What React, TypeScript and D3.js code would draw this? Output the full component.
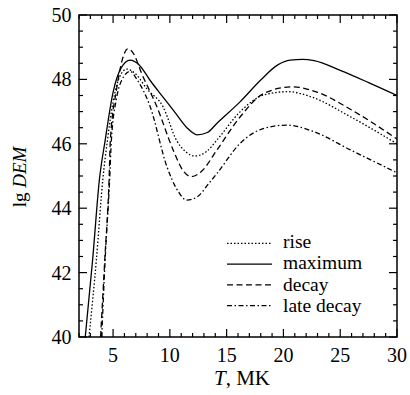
import React from "react";
import * as d3 from "d3";

const xTicks = [5, 10, 15, 20, 25, 30];
const yTicks = [40, 42, 44, 46, 48, 50];

const riseT = [2.88, 3.53, 4.1, 4.5, 5.0, 5.6, 6.2, 6.9, 8.0, 9.4, 10.6, 11.4, 12.2, 13.2, 14.15, 16.2, 18.3, 20.4, 22.5, 25.9, 30];
const riseV = [40, 42.4, 44.9, 46.1, 47.3, 48.1, 48.32, 48.2, 47.7, 47.15, 46.1, 45.75, 45.62, 45.75, 46.12, 47.0, 47.52, 47.62, 47.45, 46.84, 46.0];

const maxT = [2.55, 3.2, 3.8, 4.3, 5.0, 5.7, 6.5, 7.3, 8.3, 9.4, 10.5, 11.5, 12.4, 13.3, 14.15, 16.2, 18.0, 19.5, 20.6, 21.7, 22.7, 25.0, 27.5, 30];
const maxV = [40, 42.4, 44.9, 46.1, 47.6, 48.35, 48.6, 48.45, 47.95, 47.45, 46.95, 46.5, 46.28, 46.35, 46.64, 47.31, 47.98, 48.45, 48.6, 48.62, 48.58, 48.28, 47.9, 47.5];

const decayT = [3.9, 4.27, 4.65, 4.76, 5.3, 5.8, 6.3, 6.8, 7.5, 8.86, 10.3, 11.1, 11.9, 12.8, 14.15, 16.2, 18.3, 20.8, 23.0, 26.0, 30];
const decayV = [40, 42.4, 44.9, 46.1, 47.67, 48.6, 48.95, 48.8, 48.2, 47.15, 45.8, 45.2, 44.98, 45.15, 45.81, 46.84, 47.57, 47.77, 47.6, 47.05, 46.15];

const lateT = [4.0, 4.3, 4.7, 4.85, 5.3, 5.8, 6.5, 7.1, 8.27, 9.74, 10.6, 11.5, 12.4, 13.5, 14.15, 16.2, 18.3, 20.3, 22.5, 25.9, 30];
const lateV = [40, 42.4, 44.9, 46.1, 47.4, 48.0, 48.25, 48.0, 47.15, 45.29, 44.6, 44.25, 44.35, 44.8, 45.08, 46.02, 46.48, 46.58, 46.4, 45.81, 45.1];

const seriesNames = ["rise", "maximum", "decay", "late decay"];

export default function App() {
  const W = 410, H = 395;
  const L = 79, R = 397, T = 15, B = 337;
  const x = d3.scaleLinear().domain([2, 30]).range([L, R]);
  const y = d3.scaleLinear().domain([40, 50]).range([B, T]);
  const line = d3.line<[number, number]>().x(d => x(d[0])).y(d => y(d[1])).curve(d3.curveMonotoneX);

  const series = [
    { name: seriesNames[0], t: riseT, v: riseV, dash: "1.5 2" },
    { name: seriesNames[1], t: maxT, v: maxV, dash: "" },
    { name: seriesNames[2], t: decayT, v: decayV, dash: "6 3.5" },
    { name: seriesNames[3], t: lateT, v: lateV, dash: "5 2.5 1.5 2.5" },
  ];

  const xMinor = d3.range(2, 30.01, 1);
  const yMinor = d3.range(40, 50.01, 0.5);

  return (
    <svg width={W} height={H} style={{ position: "absolute", left: 0, top: 0 }}>
      <defs>
        <clipPath id="pc"><rect x={L} y={T} width={R - L} height={B - T} /></clipPath>
      </defs>
      <rect width={W} height={H} fill="white" />
      <g clipPath="url(#pc)">
        {series.map(s => (
          <path key={s.name} d={line(s.t.map((t, i) => [t, s.v[i]] as [number, number])) || ""}
            fill="none" stroke="#000" strokeWidth={1.3} strokeDasharray={s.dash || undefined} />
        ))}
      </g>
      {xMinor.map(v => {
        const major = xTicks.includes(v);
        const len = major ? 8 : 4;
        return (
          <g key={"xt" + v}>
            <line x1={x(v)} x2={x(v)} y1={B} y2={B - len} stroke="#000" strokeWidth={1.2} />
            <line x1={x(v)} x2={x(v)} y1={T} y2={T + len} stroke="#000" strokeWidth={1.2} />
          </g>
        );
      })}
      {yMinor.map(v => {
        const major = yTicks.includes(v);
        const len = major ? 8 : 4;
        return (
          <g key={"yt" + v}>
            <line x1={L} x2={L + len} y1={y(v)} y2={y(v)} stroke="#000" strokeWidth={1.2} />
            <line x1={R} x2={R - len} y1={y(v)} y2={y(v)} stroke="#000" strokeWidth={1.2} />
          </g>
        );
      })}
      <rect x={L} y={T} width={R - L} height={B - T} fill="none" stroke="#000" strokeWidth={1.5} />
      <g style={{ fontFamily: "'Liberation Serif', serif" }}>
        {xTicks.map(v => (
          <text key={"xl" + v} x={x(v)} y={361.5} textAnchor="middle" fontSize={20}>{v}</text>
        ))}
        {yTicks.map(v => (
          <text key={"yl" + v} x={71.5} y={y(v) + 7} textAnchor="end" fontSize={20}>{v}</text>
        ))}
        <text transform={`translate(25.5,177) rotate(-90)`} textAnchor="middle" fontSize={19}>
          lg <tspan fontStyle="italic">DEM</tspan>
        </text>
        <text x={242} y={385} textAnchor="middle" fontSize={21}>
          <tspan fontStyle="italic">T</tspan>, MK
        </text>
        {series.map((s, i) => {
          const ly = 243.3 + i * 20.8;
          return (
            <g key={"lg" + s.name}>
              <line x1={227} x2={272} y1={ly} y2={ly} stroke="#000" strokeWidth={1.3} strokeDasharray={s.dash || undefined} />
              <text x={283} y={248.3 + i * 21.1} fontSize={19.5}>{s.name}</text>
            </g>
          );
        })}
      </g>
    </svg>
  );
}
